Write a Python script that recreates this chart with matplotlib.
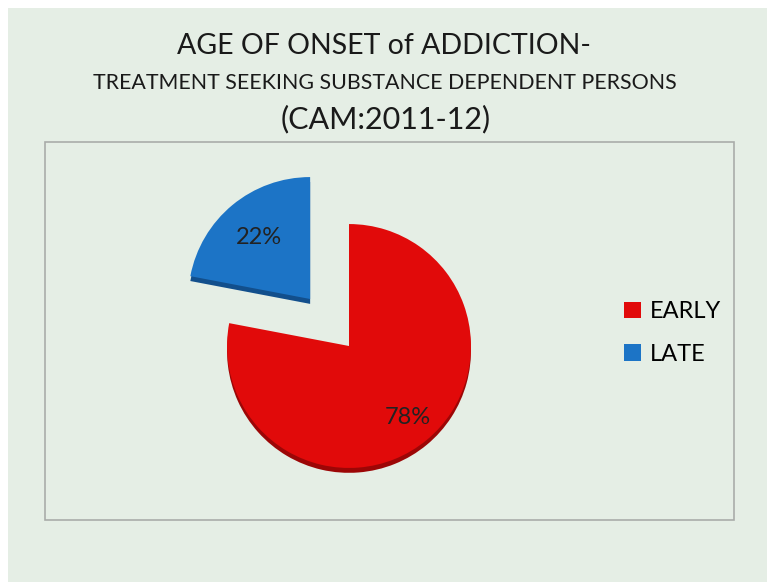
import numpy as np
import matplotlib.pyplot as plt
from matplotlib.patches import Rectangle

# data
labels = ["EARLY", "LATE"]
shares = [78, 22]
colors = ["#e10a0a", "#1c74c6"]
edge_colors = ["#9c0606", "#124f8c"]
explode = [0, 0.5]
pct_dist = [0.76, 0.66]

plt.rcParams['font.family'] = ['Lato', 'DejaVu Sans']

W, H = 767, 583
fig = plt.figure(figsize=(W / 100, H / 100), dpi=100, facecolor="white")

def fx(px):
    return px / W

def fy(py):
    return 1 - py / H

# slide background
slide = Rectangle((fx(8), fy(582)), fx(767) - fx(8), fy(8) - fy(582),
                  transform=fig.transFigure, facecolor="#e5eee5", edgecolor="none", zorder=-2)
fig.patches.append(slide)

# inner plot box
box = Rectangle((fx(45), fy(520)), fx(734) - fx(45), fy(142) - fy(520),
                transform=fig.transFigure, facecolor="none", edgecolor="#a9aca9",
                linewidth=1.2, zorder=-1)
fig.patches.append(box)

# titles
fig.text(fx(384), fy(46), "AGE OF ONSET of ADDICTION-", ha="center", va="center",
         fontsize=20.5, color="#1a1a1a")
fig.text(fx(385), fy(83), "TREATMENT SEEKING SUBSTANCE DEPENDENT PERSONS", ha="center",
         va="center", fontsize=15.4, color="#1a1a1a")
fig.text(fx(386), fy(119), "(CAM:2011-12)", ha="center", va="center",
         fontsize=22, color="#1a1a1a")

# pie
cx, cy, half = 349, 346, 150
ax = fig.add_axes([fx(cx - half), fy(cy + half), 2 * half / W, 2 * half / H])

# depth layer
ax.pie(shares, colors=edge_colors, explode=explode, startangle=90, counterclock=False,
       center=(0, -0.04), radius=1.0, frame=True)
wedges, texts, autotexts = ax.pie(shares, colors=colors, explode=explode, startangle=90,
                                  counterclock=False, radius=1.0, frame=True,
                                  autopct="%d%%",
                                  textprops=dict(fontsize=17, color="#222222"))
# per-slice label distance
for w, t, d in zip(wedges, autotexts, pct_dist):
    mid = np.deg2rad((w.theta1 + w.theta2) / 2)
    t.set_position((w.center[0] + d * np.cos(mid), w.center[1] + d * np.sin(mid)))

ax.set_xlim(-1.23, 1.23)
ax.set_ylim(-1.23, 1.23)
ax.set_aspect("equal")
ax.axis("off")

# legend
fig.legend(wedges, labels, loc="center left", bbox_to_anchor=(fx(603), fy(333)),
           frameon=False, fontsize=17, handlelength=0.7, handleheight=0.7,
           handletextpad=0.4, labelspacing=0.9)

fig.savefig("out.png", dpi=100, facecolor="white")
